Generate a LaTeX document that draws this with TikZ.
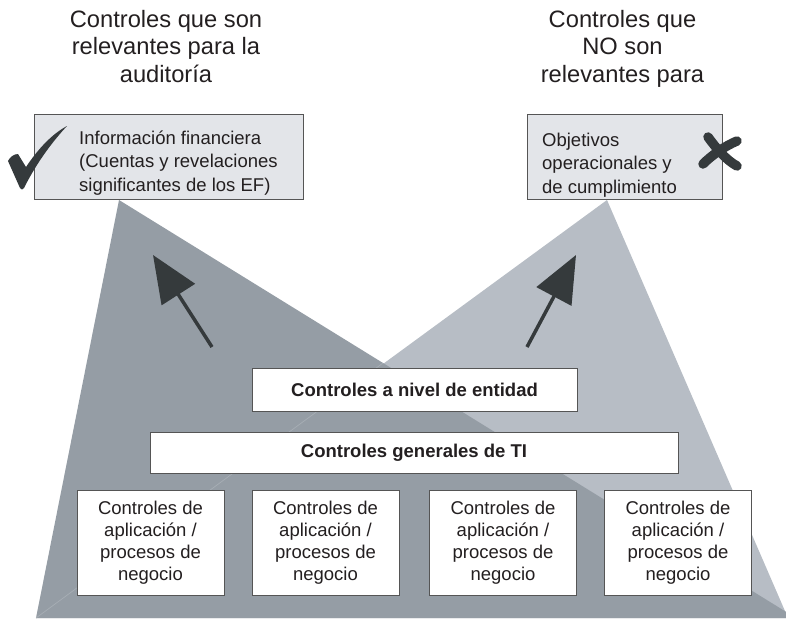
\documentclass[tikz,border=0pt]{standalone}
\usepackage{fontspec}
\setmainfont{Liberation Sans}
\usetikzlibrary{arrows.meta}
\definecolor{darktri}{HTML}{959DA5}
\definecolor{lighttri}{HTML}{B7BDC5}
\definecolor{boxgray}{HTML}{E3E5E9}
\definecolor{ink}{HTML}{231F20}
\definecolor{markcol}{HTML}{353A3C}
\definecolor{edgegray}{HTML}{555555}
\definecolor{faintline}{HTML}{A7AEB5}
\tikzset{
  titletext/.style={anchor=north, align=center, inner sep=0pt, text=ink,
    font=\fontsize{23.7}{27.5}\selectfont},
  topbox/.style={draw=edgegray, line width=0.9pt, fill=boxgray, inner sep=0pt},
  boxtext/.style={anchor=north west, align=left, inner sep=0pt, text=ink,
    font=\fontsize{18.5}{23.5}\selectfont},
  layerbox/.style={draw=edgegray, line width=0.9pt, fill=white, inner sep=0pt,
    text=ink, font=\bfseries\fontsize{18.5}{22}\selectfont},
  appbox/.style={draw=edgegray, line width=0.9pt, fill=white, inner sep=0pt,
    minimum width=147pt, minimum height=105pt, align=center, text=ink,
    font=\fontsize{18.5}{22}\selectfont},
  bigarrow/.style={draw=markcol, line width=3.5pt,
    -{Triangle[length=47pt,width=39pt]}},
  brush/.style={markcol, line width=9.5pt, line cap=round},
}
\begin{document}
\begin{tikzpicture}[x=1pt,y=-1pt]
\useasboundingbox (0,0) rectangle (786,618);
% triangles
\begin{scope}
  \clip (0,0) rectangle (786,618);
  \fill[lighttri] (607,200) -- (36,618) -- (788,618) -- cycle;
  \fill[darktri] (119,200) -- (36,618) -- (796,618) -- cycle;
  \draw[faintline, line width=0.7pt] (36,618) -- (383,363);
\end{scope}
% titles
\node[titletext] (titleL) at (166,9.7) {Controles que son\\relevantes para la\\auditoría};
\node[titletext] (titleR) at (622.5,9.7) {Controles que\\NO son\\relevantes para};
% top boxes
\node[topbox, minimum width=269pt, minimum height=85pt] (boxL) at (168.5,156.5) {};
\node[boxtext] (textL) at (79,130.5) {Información financiera\\(Cuentas y revelaciones\\significantes de los EF)};
\node[topbox, minimum width=195pt, minimum height=85pt] (boxR) at (624.5,156.5) {};
\node[boxtext] (textR) at (542,132.5) {Objetivos\\operacionales y\\de cumplimiento};
% check mark
\fill[markcol] (8,161) .. controls (10,157) and (14,154) .. (18,154) -- (26,167)
  .. controls (38,149) and (52,134) .. (67,126)
  .. controls (53,141) and (37,162) .. (24,188)
  .. controls (23,190) and (21,190) .. (20,188) -- cycle;
% cross mark
\draw[brush] (708,137) .. controls (716,148) and (726,160) .. (737,166);
\draw[brush] (737,141) .. controls (725,146) and (712,155) .. (703,164);
% arrows
\coordinate (a1s) at (212,347);
\coordinate (a1e) at (153,255);
\coordinate (a2s) at (527,347);
\coordinate (a2e) at (576,255);
\draw[bigarrow] (a1s) -- (a1e);
\draw[bigarrow] (a2s) -- (a2e);
% layer boxes
\node[layerbox, minimum width=325pt, minimum height=43pt] (entity) at (414.5,389.5) {Controles a nivel de entidad};
\node[layerbox, minimum width=528pt, minimum height=41pt] (general) at (414,452.5) {Controles generales de TI};
% application boxes
\node[appbox] (app1) at (150.5,542.5) {Controles de\\aplicación /\\procesos de\\negocio};
\node[appbox] (app2) at (325.5,542.5) {Controles de\\aplicación /\\procesos de\\negocio};
\node[appbox] (app3) at (503,542.5) {Controles de\\aplicación /\\procesos de\\negocio};
\node[appbox] (app4) at (678,542.5) {Controles de\\aplicación /\\procesos de\\negocio};
\end{tikzpicture}
\end{document}
